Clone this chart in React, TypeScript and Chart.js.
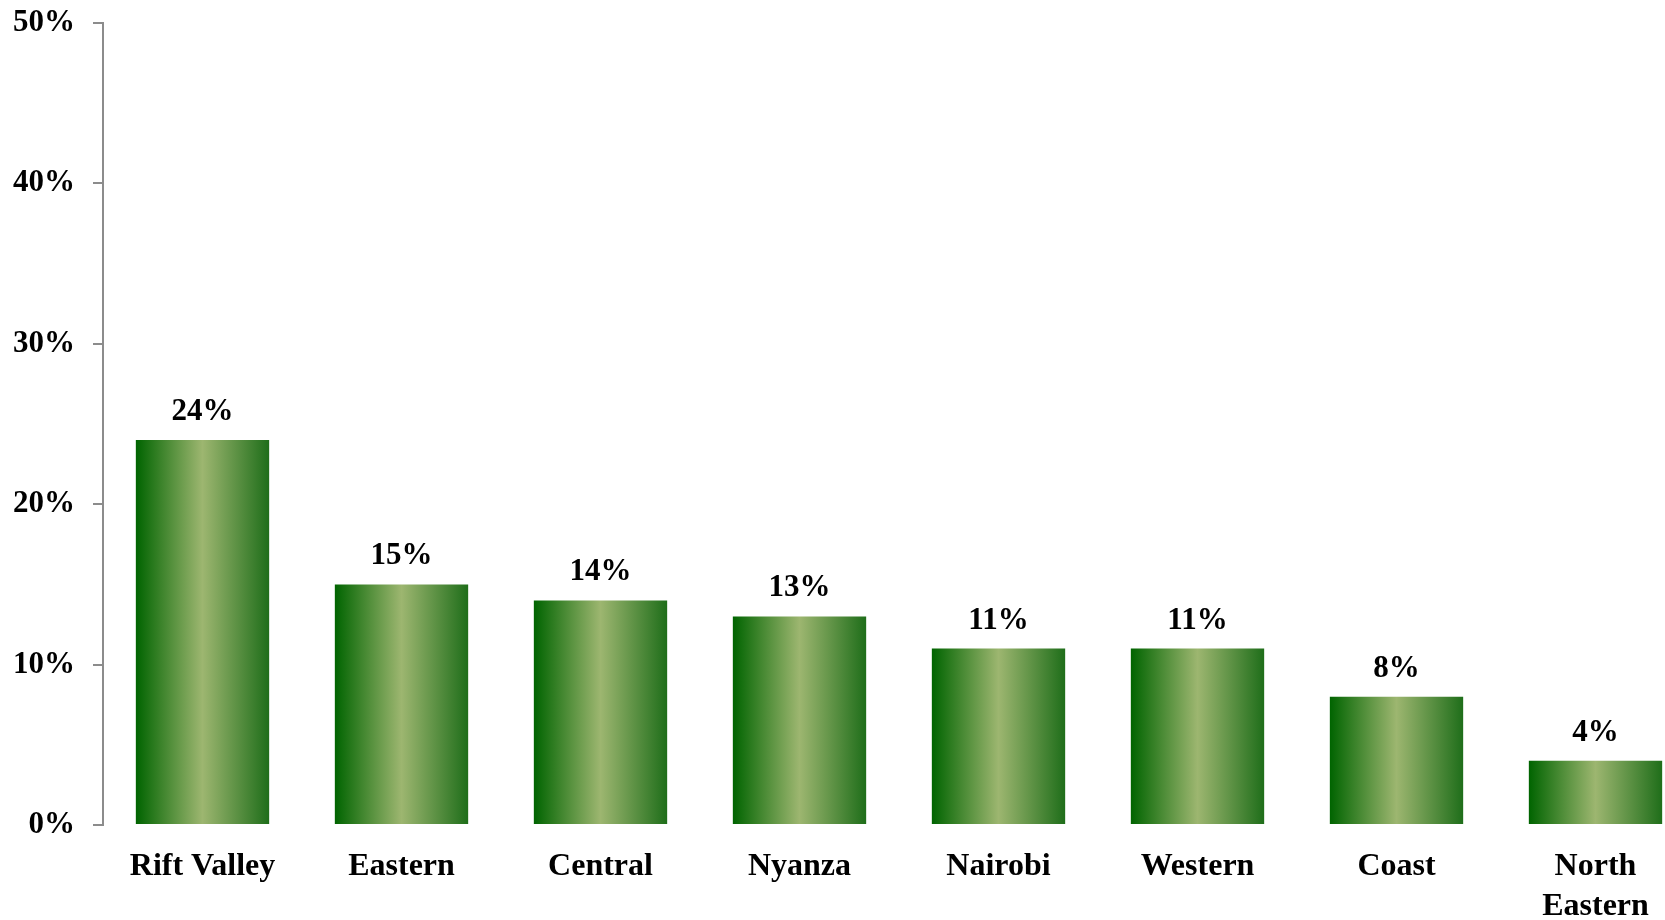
import React, { useEffect, useRef } from "react";
import { Chart, registerables } from "chart.js";

Chart.register(...registerables);

const categories: (string | string[])[] = [
  "Rift Valley",
  "Eastern",
  "Central",
  "Nyanza",
  "Nairobi",
  "Western",
  "Coast",
  ["North", "Eastern"],
];
const shares: number[] = [24, 15, 14, 13, 11, 11, 8, 4];
const yTicks: number[] = [0, 10, 20, 30, 40, 50];

const FONT = "'Liberation Serif', 'Times New Roman', serif";
const BAR_PCT = 0.67;

const valueLabels = {
  id: "valueLabels",
  afterDatasetsDraw(chart: any) {
    const ctx = chart.ctx;
    const meta = chart.getDatasetMeta(0);
    ctx.save();
    ctx.font = `bold 31px ${FONT}`;
    ctx.fillStyle = "#000";
    ctx.textAlign = "center";
    ctx.textBaseline = "alphabetic";
    meta.data.forEach((bar: any, i: number) => {
      ctx.fillText(`${shares[i]}%`, bar.x, bar.y - 20);
    });
    ctx.restore();
  },
};

export default function App() {
  const ref = useRef<HTMLCanvasElement>(null);

  useEffect(() => {
    if (!ref.current) return;
    const barFill = (c: any) => {
      const chart = c.chart;
      const xs = chart.scales && chart.scales.x;
      if (!chart.chartArea || !xs || c.dataIndex === undefined) return "#4a8a30";
      const center = xs.getPixelForValue(c.dataIndex);
      const w = (xs.width / categories.length) * BAR_PCT;
      const left = center - w / 2;
      const right = center + w / 2;
      if (!isFinite(left) || !isFinite(right) || right <= left) return "#4a8a30";
      const g = chart.ctx.createLinearGradient(left, 0, right, 0);
      g.addColorStop(0, "#006400");
      g.addColorStop(0.5, "#9db670");
      g.addColorStop(1, "#1f6e1a");
      return g;
    };
    const chart = new Chart(ref.current, {
      type: "bar",
      data: {
        labels: categories,
        datasets: [
          {
            data: shares,
            backgroundColor: barFill,
            borderWidth: 0,
            barPercentage: BAR_PCT,
            categoryPercentage: 1,
          },
        ],
      },
      options: {
        responsive: false,
        animation: false,
        devicePixelRatio: 1,
        layout: { padding: { top: 23, right: 5, left: 0, bottom: 0 } },
        plugins: {
          legend: { display: false },
          tooltip: { enabled: false },
        },
        scales: {
          x: {
            grid: { display: false, drawTicks: false },
            border: { display: false },
            ticks: {
              color: "#000",
              padding: 22,
              maxRotation: 0,
              autoSkip: false,
              font: { family: FONT, size: 32, weight: "bold", lineHeight: 1.25 },
            },
            afterFit: (s: any) => {
              s.height = 95;
              s.paddingTop = 0;
              s.paddingBottom = 0;
            },
          },
          y: {
            min: 0,
            max: 50,
            afterBuildTicks: (s: any) => {
              s.ticks = yTicks.map((v) => ({ value: v }));
            },
            grid: {
              drawOnChartArea: false,
              drawTicks: true,
              tickLength: 10,
              color: "#8c8c8c",
              lineWidth: 2,
            },
            border: { display: true, color: "#8c8c8c", width: 2 },
            ticks: {
              color: "#000",
              padding: 18,
              font: { family: FONT, size: 31, weight: "bold" },
              callback: (v: any) => `${v}%`,
            },
            afterFit: (s: any) => {
              s.width = 103;
              s.paddingTop = 0;
              s.paddingBottom = 0;
            },
          },
        },
      },
      plugins: [valueLabels],
    });
    return () => chart.destroy();
  }, []);

  return (
    <div
      style={{
        position: "fixed",
        left: 0,
        top: 0,
        width: "100vw",
        height: "100vh",
        overflow: "hidden",
        background: "#fff",
      }}
    >
      <canvas ref={ref} width={1700} height={920} style={{ display: "block" }} />
    </div>
  );
}
